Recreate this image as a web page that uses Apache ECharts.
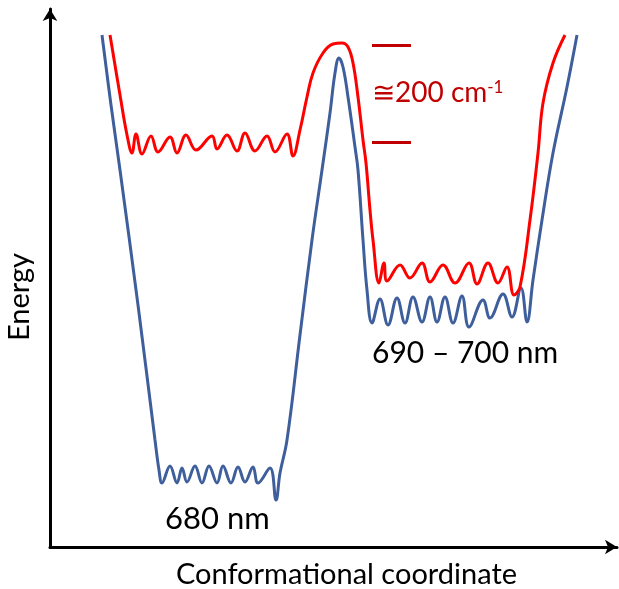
<!DOCTYPE html>
<html>
<head>
<meta charset="utf-8">
<script src="https://cdn.jsdelivr.net/npm/echarts@6/dist/echarts.min.js"></script>
<style>
  html, body { margin: 0; padding: 0; background: #fff; }
  #main { width: 619px; height: 589px; }
</style>
</head>
<body>
<div id="main"></div>
<script>
// curves: [conformational coordinate, energy]
const blueCurve = [
  [52,512],[61,442],[70,377],[88,242],[105,107],[109,77],[112,64],[120,81],[127,64],[132,79],
  [137,65],[145,81],[152,64],[159,81],[167,64],[173,81],[181,64],[188,80],[195,65],[203,80],
  [208,64],[220,79],[226,47],[230,74],[237,107],[250,212],[262,307],[272,377],[280,434],[285,474],
  [289,489],[293,480],[298,450],[305,400],[308,377],[313,307],[317,257],[322,224],[330,248],[338,222],
  [347,249],[355,224],[363,250],[372,225],[380,250],[387,225],[395,250],[403,224],[412,251],[419,220],
  [433,247],[440,229],[453,253],[462,230],[471,259],[477,225],[483,267],[492,327],[503,394],[517,460],
  [527,512]
]
const redCurve = [
  [60,512],[70,452],[77,412],[82,394],[86,413],[92,393],[101,411],[108,395],[120,410],[127,394],
  [136,412],[146,397],[162,411],[167,398],[177,412],[187,396],[195,414],[205,396],[217,411],[225,395],
  [237,413],[243,391],[250,417],[257,450],[263,474],[273,494],[283,503],[292,504],[298,500],[303,484],
  [308,450],[313,407],[316,384],[320,337],[323,307],[329,264],[334,284],[337,266],[350,282],[360,269],
  [372,284],[380,265],[393,282],[405,264],[419,284],[427,263],[438,284],[448,264],[457,280],[464,252],
  [470,260],[480,327],[488,394],[493,444],[503,484],[515,512]
]
// the two short red marks bracketing the barrier height
const barrierTop = 502
const barrierBottom = 405
const barrierX = [322, 361]

const blue = '#3e5f9c'
const red = '#ff0000'
const darkRed = '#c00000'
const font = 'Lato, "Open Sans", sans-serif'

var chart = echarts.init(document.getElementById('main'))

var option = {
  animation: false,
  backgroundColor: '#fff',
  grid: { left: 50, right: 2, top: 9, bottom: 42, outerBoundsMode: 'none' },
  xAxis: {
    type: 'value', min: 0, max: 567,
    axisLine: { show: true, symbol: ['none', 'arrow'], symbolSize: [11, 12], lineStyle: { color: '#000', width: 3 } },
    axisTick: { show: false }, axisLabel: { show: false }, splitLine: { show: false },
    name: 'Conformational coordinate', nameLocation: 'middle', nameGap: 13,
    nameTextStyle: { color: '#000', fontSize: 29, fontFamily: font, padding: [0, 0, 0, 26] }
  },
  yAxis: {
    type: 'value', min: 0, max: 538,
    axisLine: { show: true, symbol: ['none', 'arrow'], symbolSize: [11, 12], lineStyle: { color: '#000', width: 3 } },
    axisTick: { show: false }, axisLabel: { show: false }, splitLine: { show: false },
    name: 'Energy', nameLocation: 'middle', nameGap: 16, nameRotate: 90,
    nameTextStyle: { color: '#000', fontSize: 29, fontFamily: font, padding: [0, 38, 0, 0] }
  },
  series: [
    {
      type: 'line', data: blueCurve, smooth: 0.4, symbol: 'none',
      lineStyle: { color: blue, width: 3 }
    },
    {
      type: 'line', data: redCurve, smooth: 0.4, symbol: 'none',
      lineStyle: { color: red, width: 3 },
      markLine: {
        silent: true, symbol: 'none', label: { show: false },
        lineStyle: { color: darkRed, width: 3, type: 'solid' },
        data: [
          [{ coord: [barrierX[0], barrierTop] }, { coord: [barrierX[1], barrierTop] }],
          [{ coord: [barrierX[0], barrierBottom] }, { coord: [barrierX[1], barrierBottom] }]
        ]
      }
    }
  ],
  graphic: [
    {
      type: 'text', left: 372, top: 79,
      style: {
        text: '{a|≅200 cm}{s|-1}',
        rich: {
          a: { fontSize: 28, fontFamily: font, fill: darkRed },
          s: { fontSize: 17, fontFamily: font, fill: darkRed, verticalAlign: 'top', padding: [0, 0, 10, 0] }
        }
      }
    },
    {
      type: 'text', left: 165, top: 503,
      style: { text: '680 nm', fontSize: 31, fontFamily: font, fill: '#000' }
    },
    {
      type: 'text', left: 372, top: 338,
      style: { text: '690 – 700 nm', fontSize: 30, fontFamily: font, fill: '#000' }
    }
  ]
}

chart.setOption(option)
</script>
</body>
</html>
